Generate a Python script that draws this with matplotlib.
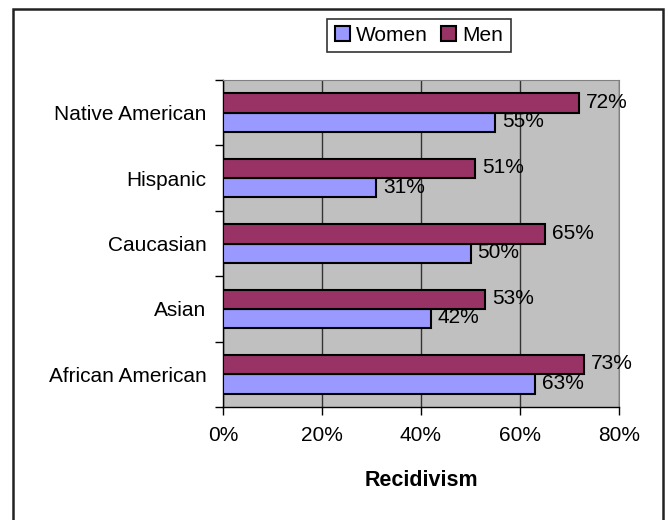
import matplotlib
matplotlib.use("Agg")
import matplotlib.pyplot as plt
from matplotlib.patches import Rectangle
from matplotlib.ticker import FixedLocator, FuncFormatter
import numpy as np

plt.rcParams['font.family'] = ['Liberation Sans', 'DejaVu Sans']

# recidivism rates by group (percent)
groups = ["African American", "Asian", "Caucasian", "Hispanic", "Native American"]
women = [63, 42, 50, 31, 55]
men = [73, 53, 65, 51, 72]

women_color = "#9999FF"
men_color = "#993366"

fig = plt.figure(figsize=(6.68, 5.2), dpi=100)
ax = fig.add_axes([223 / 668, 1 - 407 / 520, 396 / 668, 327 / 520])
ax.set_facecolor("#C0C0C0")

y = np.arange(len(groups))
h = 0.295
bw = ax.barh(y - h / 2, women, height=h, color=women_color, edgecolor="black",
             linewidth=1.5, label="Women", zorder=3)
bm = ax.barh(y + h / 2, men, height=h, color=men_color, edgecolor="black",
             linewidth=1.5, label="Men", zorder=3)

for bars, vals in ((bw, women), (bm, men)):
    for b, v in zip(bars, vals):
        ax.annotate(f"{v}%", (v, b.get_y() + b.get_height() / 2),
                    xytext=(5, 0.5), textcoords="offset points",
                    va="center", ha="left", fontsize=15, zorder=4)

ax.set_xlim(0, 80)
ax.set_ylim(-0.5, len(groups) - 0.5)
ax.set_xticks([0, 20, 40, 60, 80])
ax.xaxis.set_major_formatter(FuncFormatter(lambda v, p: f"{v:.0f}%"))
ax.grid(axis="x", color="#333333", linewidth=1.0, zorder=1)

# category labels centred, ticks drawn at the boundaries between groups
ax.set_yticks(y)
ax.set_yticklabels(groups, fontsize=15)
ax.tick_params(axis="y", which="major", length=0, pad=12)
ax.yaxis.set_minor_locator(FixedLocator(np.arange(-0.5, len(groups), 1.0)))
ax.tick_params(axis="y", which="minor", length=6, width=1, color="black")
ax.tick_params(axis="x", labelsize=15, length=6, width=1, pad=8)

ax.set_xlabel("Recidivism", fontsize=15.5, fontweight="bold", labelpad=18)

for side in ("top", "right"):
    ax.spines[side].set_color("#808080")
for side in ("left", "bottom"):
    ax.spines[side].set_color("black")
    ax.spines[side].set_linewidth(1.0)

leg = fig.legend(handles=[bw, bm], labels=["Women", "Men"], loc="center",
                 bbox_to_anchor=(419 / 668, 1 - 35.5 / 520), ncol=2,
                 fontsize=15, frameon=True, fancybox=False,
                 handlelength=0.75, handleheight=0.75, handletextpad=0.3,
                 columnspacing=0.6, borderpad=0.35)
leg.get_frame().set_edgecolor("black")
leg.get_frame().set_linewidth(1.2)

# outer chart border
fig.patches.append(Rectangle((13 / 668, -0.05), 650 / 668, (511 / 520) + 0.05,
                             transform=fig.transFigure, fill=False,
                             edgecolor="#222222", linewidth=1.8))

fig.savefig("out.png", dpi=100)
